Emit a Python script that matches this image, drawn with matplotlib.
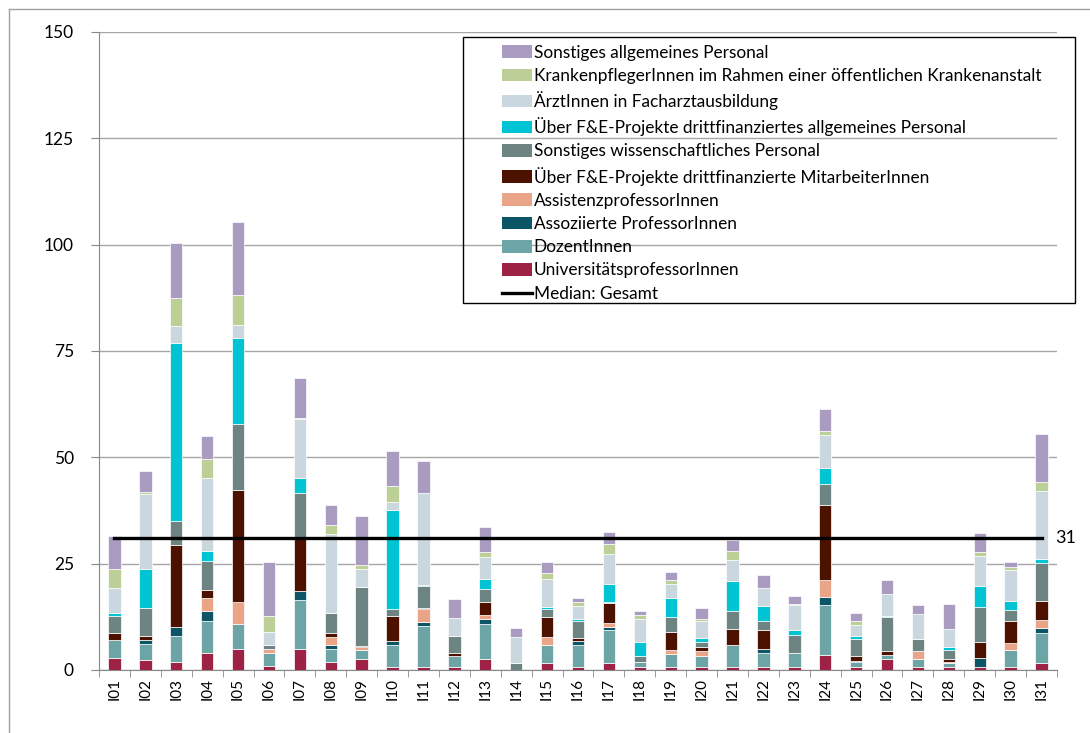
import numpy as np
import matplotlib
matplotlib.use('Agg')
import matplotlib.pyplot as plt
from matplotlib.patches import Patch, Rectangle
from matplotlib.lines import Line2D

plt.rcParams['font.family'] = ['Lato', 'DejaVu Sans']

kategorien = ['I%02d' % i for i in range(1, 32)]

# Werte je Personalkategorie (von unten nach oben gestapelt)
univ_prof = [2.9, 2.35, 1.9, 3.9, 4.9, 0.9, 4.9, 1.8, 2.7, 0.8, 0.8, 0.8, 2.7, 0, 1.7, 0.8,
             1.7, 0.8, 0.8, 0.8, 0.8, 0.8, 0.8, 3.5, 0.8, 2.5, 0.8, 0.8, 0.8, 0.8, 1.7]
dozent = [4.1, 3.7, 6.1, 7.6, 6.0, 3.0, 11.6, 3.1, 2.1, 5.1, 9.6, 2.6, 8.2, 0, 4.1, 5.1,
          7.6, 1.0, 3.0, 2.6, 5.0, 3.3, 3.1, 11.7, 1.0, 1.0, 1.9, 0.9, 0, 3.9, 7.1]
assoz_prof = [0, 0.9, 2.0, 2.35, 0, 0, 2.0, 0.9, 0, 0.9, 0.8, 0, 1.0, 0, 0, 0.9,
              0.9, 0, 0, 0, 0, 0.9, 0, 2.0, 0.2, 0, 0, 0, 2.0, 0, 1.0]
assist_prof = [0, 0, 0, 3.06, 5.1, 1.1, 0, 2.0, 0.5, 0, 3.1, 0, 1.0, 0, 2.0, 0,
               0.9, 0, 1.0, 1.1, 0, 0, 0, 4.0, 0, 0, 1.8, 0.2, 0, 1.6, 2.0]
fe_mitarb = [1.8, 1.0, 19.4, 2.0, 26.3, 0, 12.2, 0.8, 0.3, 6.0, 0.2, 0.7, 3.1, 0, 4.6, 0.8,
             4.6, 0, 4.2, 0.9, 3.8, 4.5, 0.2, 17.7, 1.3, 1.0, 0, 0.7, 3.9, 5.3, 4.4]
sonst_wiss = [3.9, 6.7, 5.7, 6.7, 15.6, 0.9, 11.0, 4.7, 13.9, 1.5, 5.2, 4.0, 3.1, 1.7, 2.0, 4.0,
              0.2, 1.6, 3.4, 1.2, 4.2, 2.0, 4.1, 4.9, 4.1, 8.0, 2.7, 2.0, 8.1, 2.4, 9.0]
fe_allg = [0.6, 9.1, 41.7, 2.4, 20.2, 0, 3.5, 0, 0, 23.4, 0.4, 0, 2.4, 0, 0.3, 0.5,
           4.3, 3.1, 4.6, 0.9, 7.1, 3.6, 1.1, 3.7, 0.5, 0.3, 0, 0.9, 4.9, 2.3, 0.8]
aerzte = [6.0, 17.6, 4.1, 17.1, 3.1, 3.0, 13.7, 18.7, 4.2, 1.7, 21.6, 4.2, 5.1, 6.1, 6.7, 3.0,
          7.1, 5.5, 3.2, 4.1, 5.0, 4.1, 6.0, 7.8, 2.7, 5.0, 6.0, 4.1, 7.1, 7.1, 16.2]
krankenpfl = [4.5, 0.6, 6.6, 4.5, 7.0, 3.7, 0.4, 2.1, 0.9, 3.9, 0, 0, 1.2, 0, 1.4, 1.0,
              2.3, 0.9, 0.9, 0.5, 2.0, 0, 0.2, 1.0, 0.9, 0, 0, 0, 0.9, 0.9, 2.0]
sonst_allg = [7.8, 4.9, 12.9, 5.5, 17.2, 12.8, 9.4, 4.7, 11.6, 8.2, 7.4, 4.4, 5.9, 2.0, 2.5, 0.9,
              2.9, 0.9, 2.0, 2.4, 2.6, 3.1, 1.8, 5.0, 2.0, 3.3, 2.0, 6.0, 4.5, 1.0, 11.4]
median_gesamt = 31

serien = [
    ('UniversitätsprofessorInnen', univ_prof, '#9E2246'),
    ('DozentInnen', dozent, '#6DA5A6'),
    ('Assoziierte ProfessorInnen', assoz_prof, '#0B5567'),
    ('AssistenzprofessorInnen', assist_prof, '#EAA487'),
    ('Über F&E-Projekte drittfinanzierte MitarbeiterInnen', fe_mitarb, '#4D1100'),
    ('Sonstiges wissenschaftliches Personal', sonst_wiss, '#6E8483'),
    ('Über F&E-Projekte drittfinanziertes allgemeines Personal', fe_allg, '#00C3D3'),
    ('ÄrztInnen in Facharztausbildung', aerzte, '#CBD7DF'),
    ('KrankenpflegerInnen im Rahmen einer öffentlichen Krankenanstalt', krankenpfl, '#BBCF97'),
    ('Sonstiges allgemeines Personal', sonst_allg, '#AA9CC1'),
]

fig = plt.figure(figsize=(10.9, 7.33), dpi=100)
ax = fig.add_axes([99 / 1090, 1 - 670 / 733, (1057 - 99) / 1090, (670 - 32) / 733])

x = np.arange(len(kategorien))
unten = np.zeros(len(kategorien))
for name, werte, farbe in serien:
    werte = np.array(werte)
    ax.bar(x, werte, width=0.4, bottom=unten, color=farbe, edgecolor='white',
           linewidth=0.5, zorder=3)
    unten += werte

ax.plot([x[0], x[-1]], [median_gesamt, median_gesamt], color='black', lw=2.4, zorder=4)
ax.text(x[-1] + 0.45, median_gesamt, str(median_gesamt), va='center', ha='left',
        fontsize=13, clip_on=False)

ax.set_xlim(-0.5, len(kategorien) - 0.5)
ax.set_ylim(0, 150)
ax.set_yticks(np.arange(0, 151, 25))
ax.set_yticklabels([str(v) for v in range(0, 151, 25)], fontsize=12.5)
ax.yaxis.grid(True, color='#A6A6A6', lw=1)
ax.set_axisbelow(True)

ax.set_xticks(x)
ax.set_xticklabels(kategorien, rotation=90, fontsize=11)
ax.tick_params(axis='x', length=0, pad=6)
ax.set_xticks(np.arange(-0.5, len(kategorien)), minor=True)
ax.tick_params(axis='x', which='minor', length=5, color='#888888', direction='out')
ax.tick_params(axis='y', length=6, color='#888888', pad=12)

for s in ['top', 'right']:
    ax.spines[s].set_visible(False)
for s in ['left', 'bottom']:
    ax.spines[s].set_color('#888888')

# Legende (Reihenfolge umgekehrt, Median zuletzt)
handles = [Patch(facecolor=f, edgecolor='none') for _, _, f in serien[::-1]]
labels = [n for n, _, _ in serien[::-1]]
handles.append(Line2D([0], [0], color='black', lw=2.4))
labels.append('Median: Gesamt')
leg = fig.legend(handles, labels, loc='upper left',
                 bbox_to_anchor=(493 / 1090, 1 - 36 / 733), frameon=False,
                 fontsize=12.4, handlelength=1.75, handleheight=0.75, handletextpad=0.12,
                 labelspacing=0.42, borderpad=0.0)
fig.patches.append(Rectangle((463 / 1090, 1 - 303 / 733), (1075 - 463) / 1090,
                             (303 - 37) / 733, transform=fig.transFigure,
                             fill=False, edgecolor='black', lw=1))

# äußerer Rahmen
fig.add_artist(Line2D([9 / 1090, 9 / 1090], [0, 1 - 9 / 733], color='#A0A0A0', lw=1,
                      transform=fig.transFigure))
fig.add_artist(Line2D([9 / 1090, 1], [1 - 9 / 733, 1 - 9 / 733], color='#A0A0A0', lw=1,
                      transform=fig.transFigure))

fig.savefig('out.png', dpi=100)
